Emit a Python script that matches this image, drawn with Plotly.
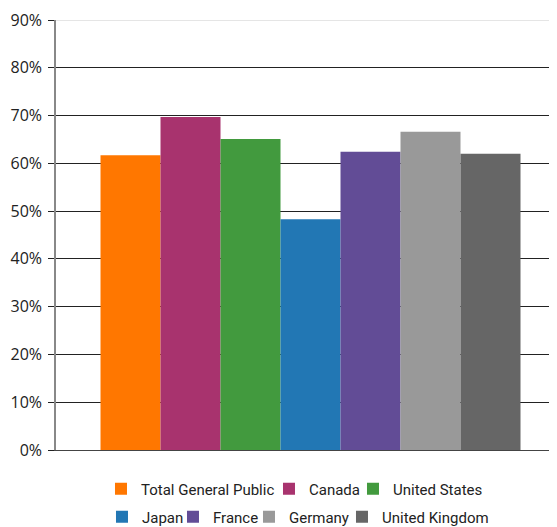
import plotly.graph_objects as go

categories = ["Total General Public", "Canada", "United States", "Japan", "France", "Germany", "United Kingdom"]
values = [0.617, 0.697, 0.651, 0.483, 0.624, 0.666, 0.620]
colors = ["#FF7700", "#A8336E", "#429A3E", "#2277B4", "#624C96", "#999999", "#666666"]
tick_vals = [0, 0.1, 0.2, 0.3, 0.4, 0.5, 0.6, 0.7, 0.8, 0.9]
# legend entry widths (px) to mimic the reference spacing
legend_widths = [123, 39, 92, 26, 31, 48, 109]

FONT = "Roboto, Liberation Sans Narrow, sans-serif"

fig = go.Figure()
for i, (name, v, c, lw) in enumerate(zip(categories, values, colors, legend_widths)):
    fig.add_trace(go.Bar(
        x=[""], y=[v], name=name, marker=dict(color=c, line=dict(width=0)),
        legend="legend" if i < 3 else "legend2", legendwidth=lw,
    ))

# the page body adds an 8px offset, so the figure is 8px smaller and its margins compensate
fig.update_layout(
    width=549, height=519,
    margin=dict(l=48, r=0, t=12, b=77, autoexpand=False),
    paper_bgcolor="white", plot_bgcolor="white",
    barmode="group", bargap=0.1617, bargroupgap=0,
    font=dict(family=FONT, size=15, color="#222222"),
    xaxis=dict(range=[-0.508, 0.492], showticklabels=False, showgrid=False, zeroline=False,
               automargin=False, showline=True, linecolor="#444444", linewidth=1, ticks=""),
    yaxis=dict(range=[0, 0.9], tickvals=tick_vals, tickformat=".0%", automargin=False,
               showgrid=True, gridcolor="#222222", gridwidth=1,
               zeroline=False, showline=True, linecolor="#888888", linewidth=1.5,
               ticks="outside", ticklen=6, tickcolor="#222222", ticklabelstandoff=3,
               tickfont=dict(family="Open Sans, sans-serif", size=16, color="#222222")),
    legend=dict(orientation="h", x=0.0898, xanchor="left", y=-0.0907, yanchor="middle",
                font=dict(family=FONT, size=15, color="#222222"), itemwidth=30,
                traceorder="normal"),
    legend2=dict(orientation="h", x=0.0918, xanchor="left", y=-0.156, yanchor="middle",
                 font=dict(family=FONT, size=15, color="#222222"), itemwidth=30,
                 traceorder="normal"),
    shapes=[dict(type="line", xref="paper", yref="y", x0=0, x1=1, y0=0.9, y1=0.9,
                 line=dict(color="#CCCCCC", width=1), layer="above")],
)

fig.write_html("out.html")
